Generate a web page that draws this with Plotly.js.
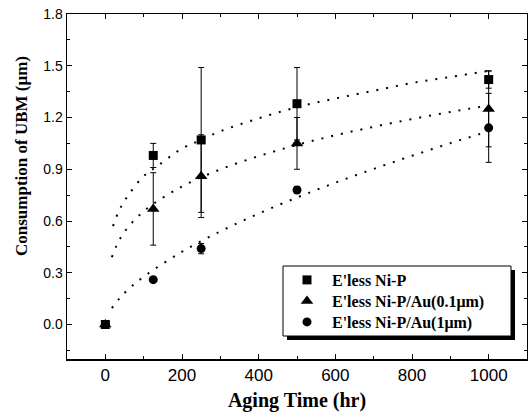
<!DOCTYPE html>
<html>
<head>
<meta charset="utf-8">
<script src="https://cdn.plot.ly/plotly-3.0.1.min.js"></script>
<style>html,body{margin:0;padding:0;background:#fff;}#chart{width:528px;height:418px;}</style>
</head>
<body>
<div id="chart"></div>
<script>
// Measured data
const agingTime = [0, 125, 250, 500, 1000];
const niP = [0, 0.98, 1.07, 1.28, 1.42];
const niPErr = [0, 0.07, 0.42, 0.21, 0.05];
const niPAu01 = [0, 0.67, 0.86, 1.05, 1.25];
const niPAu01Err = [0, 0.21, 0.24, 0.15, 0.22];
const niPAu1 = [0, 0.26, 0.44, 0.78, 1.14];
const niPAu1Err = [0, 0.01, 0.03, 0.02, 0.20];

// Dotted trend curves
const fitX1 = [20, 37, 60, 100, 137, 200, 250, 300, 400, 500, 600, 700, 800, 900, 1000];
const fitY1 = [0.57, 0.666, 0.75, 0.86, 0.92, 1.02, 1.07, 1.12, 1.195, 1.26, 1.31, 1.355, 1.40, 1.435, 1.47];
const fitX2 = [17, 30, 50, 100, 200, 300, 400, 500, 600, 700, 800, 900, 1000];
const fitY2 = [0.39, 0.46, 0.537, 0.656, 0.80, 0.899, 0.976, 1.041, 1.097, 1.146, 1.191, 1.232, 1.27];
const fitX3 = [17, 36, 60, 100, 200, 300, 400, 500, 600, 700, 800, 900, 1000];
const fitY3 = [0.095, 0.149, 0.204, 0.277, 0.422, 0.54, 0.643, 0.736, 0.822, 0.902, 0.978, 1.051, 1.12];

const names = ["E'less Ni-P", "E'less Ni-P/Au(0.1\u03bcm)", "E'less Ni-P/Au(1\u03bcm)"];
const xTickVals = [0, 200, 400, 600, 800, 1000];
const yTickVals = [0, 0.3, 0.6, 0.9, 1.2, 1.5, 1.8];
const yTickText = ['0.0', '0.3', '0.6', '0.9', '1.2', '1.5', '1.8'];
const xTitle = 'Aging Time (hr)';
const yTitle = 'Consumption of UBM (\u03bcm)';

const dotLine = {color: '#000', width: 2, dash: '2px,8px', shape: 'spline'};
const errStyle = (arr) => ({type: 'data', array: arr, visible: true, color: '#000', thickness: 1, width: 3});

const traces = [
  {x: fitX1, y: fitY1, mode: 'lines', line: dotLine, showlegend: false, hoverinfo: 'skip'},
  {x: fitX2, y: fitY2, mode: 'lines', line: dotLine, showlegend: false, hoverinfo: 'skip'},
  {x: fitX3, y: fitY3, mode: 'lines', line: dotLine, showlegend: false, hoverinfo: 'skip'},
  {x: agingTime, y: niP, name: names[0], legend: 'legend', mode: 'markers', marker: {symbol: 'square', size: 9, color: '#000'}, error_y: errStyle(niPErr)},
  {x: agingTime, y: niPAu01, name: names[1], legend: 'legend2', mode: 'markers', marker: {symbol: 'triangle-up', size: 11, color: '#000'}, error_y: errStyle(niPAu01Err)},
  {x: agingTime, y: niPAu1, name: names[2], legend: 'legend3', mode: 'markers', marker: {symbol: 'circle', size: 9, color: '#000'}, error_y: errStyle(niPAu1Err)}
];

const L = 67, R = 1, T = 14, B = 59, W = 528, H = 418;
const pw = W - L - R, ph = H - T - B;
const px = (p) => (p - L) / pw;
const py = (p) => (H - B - p) / ph;

const serif = 'Liberation Serif, Times New Roman, serif';
const sans = 'Liberation Sans, Arial, sans-serif';

const axisCommon = {
  showline: true, linecolor: '#000', linewidth: 1.5, mirror: 'ticks',
  ticks: 'inside', ticklen: 5, tickwidth: 1, tickcolor: '#000',
  showgrid: false, zeroline: false
};

const legendBase = (rowY) => ({
  x: px(282), y: py(rowY), xanchor: 'left', yanchor: 'middle',
  bgcolor: 'rgba(0,0,0,0)', borderwidth: 0, itemwidth: 40,
  font: {family: serif, size: 16, color: '#000', weight: 'bold'},
  itemsizing: 'trace'
});

const layout = {
  width: W, height: H,
  margin: {l: L, r: R, t: T, b: B},
  paper_bgcolor: '#fff', plot_bgcolor: '#fff',
  showlegend: true,
  xaxis: Object.assign({}, axisCommon, {
    range: [-100, 1100], tickvals: xTickVals,
    tickfont: {family: sans, size: 17, color: '#000'},
    minor: {ticks: 'inside', ticklen: 3, tickwidth: 1, tickcolor: '#000', dtick: 100, tick0: 0},
    title: {text: xTitle, font: {family: serif, size: 20, color: '#000', weight: 'bold'}, standoff: 9}
  }),
  yaxis: Object.assign({}, axisCommon, {
    range: [-0.2, 1.8], tickvals: yTickVals, ticktext: yTickText,
    tickfont: {family: sans, size: 14, color: '#000'},
    minor: {ticks: 'inside', ticklen: 3, tickwidth: 1, tickcolor: '#000', dtick: 0.15, tick0: 0}
  }),
  annotations: [
    {text: yTitle, xref: 'paper', yref: 'paper', x: px(21), y: py(156), xanchor: 'center', yanchor: 'middle',
     textangle: -90, showarrow: false, font: {family: serif, size: 17, color: '#000', weight: 'bold'}}
  ],
  legend: legendBase(280),
  legend2: legendBase(301),
  legend3: legendBase(322),
  shapes: [
    {type: 'rect', xref: 'paper', yref: 'paper', x0: px(287), x1: px(515), y0: py(340), y1: py(270), fillcolor: '#000', line: {width: 0}, layer: 'above'},
    {type: 'rect', xref: 'paper', yref: 'paper', x0: px(283), x1: px(511), y0: py(336), y1: py(266), fillcolor: '#fff', line: {width: 1, color: '#000'}, layer: 'above'}
  ]
};

Plotly.newPlot('chart', traces, layout, {displayModeBar: false, staticPlot: true});
</script>
</body>
</html>
